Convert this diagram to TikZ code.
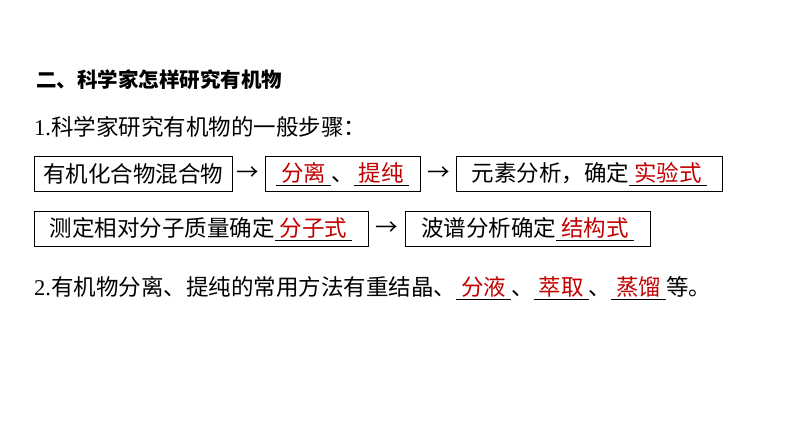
\documentclass[tikz,border=0pt]{standalone}
\usepackage{fontspec}
\setmainfont{Noto Sans CJK SC}
\newfontfamily\numfont{Liberation Serif}
\definecolor{ansred}{RGB}{192,0,0}
\newcommand{\ans}[1]{\underline{\hspace{5pt}\textcolor{ansred}{#1}\hspace{5pt}}}
\tikzset{stepbox/.style={draw, rectangle, inner sep=3pt, minimum height=35pt, anchor=west, font=\fontsize{22.5}{24}\selectfont},
  plain/.style={anchor=west, inner sep=0pt, font=\fontsize{22.5}{24}\selectfont}}
\begin{document}
\begin{tikzpicture}[x=1pt, y=-1pt]
\useasboundingbox (0,0) rectangle (794,447);
\node[plain, font=\fontsize{20.5}{22}\selectfont\bfseries] (title) at (36,80) {二、科学家怎样研究有机物};
\node[plain] (line1) at (34,127) {{\numfont 1.}科学家研究有机物的一般步骤：};
\node[stepbox, minimum width=198pt] (b1) at (34,174) {有机化合物混合物};
\node[plain] (a1) at (236,174) {→};
\node[stepbox, minimum width=155pt] (b2) at (265,174) {\ans{分离}、\ans{提纯}};
\node[plain] (a2) at (427,174) {→};
\node[stepbox, minimum width=266pt] (b3) at (456,174) {元素分析，确定\ans{实验式}};
\node[stepbox, minimum width=334pt] (b4) at (34,229) {测定相对分子质量确定\ans{分子式}\hspace{10pt}};
\node[plain] (a3) at (375,229) {→};
\node[stepbox, minimum width=245pt] (b5) at (405,229) {波谱分析确定\ans{结构式}\hspace{10pt}};
\node[plain] (line2) at (34,288) {{\numfont 2.}有机物分离、提纯的常用方法有重结晶、\ans{分液}、\ans{萃取}、\ans{蒸馏}等。};
\end{tikzpicture}
\end{document}
